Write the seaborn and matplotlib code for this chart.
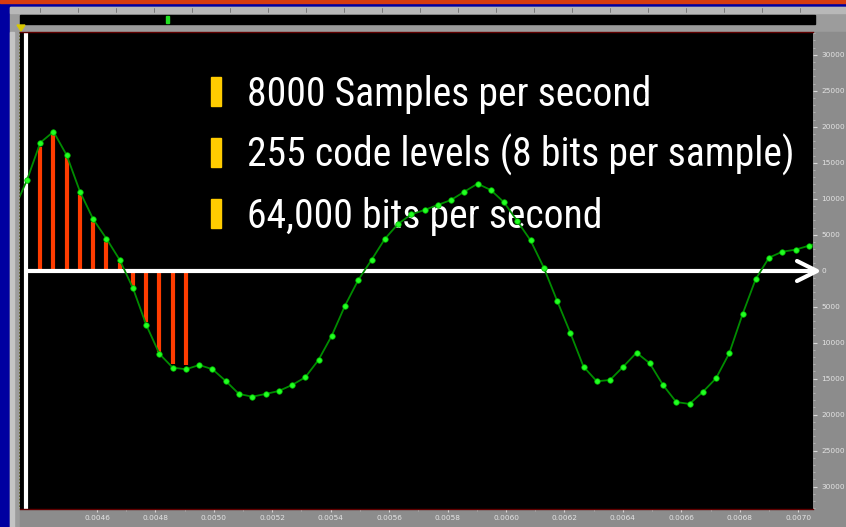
import numpy as np
import pandas as pd
import matplotlib
matplotlib.use('Agg')
import matplotlib.pyplot as plt
import seaborn as sns
from matplotlib.patches import Rectangle, Polygon

# 波形采样值（从截图读出，序号 -1..60）
sample_idx = list(range(-1, 61))
sample_values = [8430, 12600, 17780, 19310, 16030, 10970, 7140, 4440, 1490, -2440,
                 -7540, -11570, -13470, -13690, -13100, -13690, -15320, -17120, -17500, -17120,
                 -16710, -15880, -14810, -12400, -9030, -4860, -1290, 1490, 4400, 6490,
                 7830, 8430, 9130, 9820, 10970, 12080, 11210, 9500, 6900, 4220,
                 440, -4140, -8610, -13330, -15360, -15180, -13330, -11390, -12860, -15880,
                 -18240, -18510, -16850, -14950, -11470, -6060, -1150, 1810, 2640, 2920,
                 3470, 3990]

# 量化后的 PCM 值（红色竖线）
pcm_idx = list(range(1, 13))
pcm_values = [17220, 19170, 15750, 10510, 6810, 4030, 1110, -2080, -7080, -11250, -12960, -13100]

bullet_lines = ['8000 Samples per second',
                '255 code levels (8 bits per sample)',
                '64,000 bits per second']

# 坐标轴刻度
y_ticks = [30000, 25000, 20000, 15000, 10000, 5000, 0, -5000, -10000, -15000, -20000, -25000, -30000]
y_tick_labels = ['30000', '25000', '20000', '15000', '10000', '5000', '0',
                 '5000', '10000', '15000', '20000', '25000', '30000']
x_tick_times = [0.0046, 0.0048, 0.0050, 0.0052, 0.0054, 0.0056, 0.0058,
                0.0060, 0.0062, 0.0064, 0.0066, 0.0068, 0.0070]
fs = 22050
t_first = 0.0043605  # 第0个采样的时间

sns.set_style("dark")
plt.rcParams['font.family'] = ['Roboto Condensed', 'Liberation Sans Narrow', 'Roboto', 'DejaVu Sans']

W, H = 846, 527
fig = plt.figure(figsize=(W / 100, H / 100), dpi=100, facecolor='#0000a0')

# 背景（像素坐标）
bg = fig.add_axes([0, 0, 1, 1], zorder=0)
bg.set_xlim(0, W)
bg.set_ylim(H, 0)
bg.axis('off')
bg.add_patch(Rectangle((0, 0), W, 3, color='#d83c10'))
bg.add_patch(Rectangle((10, 7), W - 10, H - 7, color='#9c9c9c'))
bg.add_patch(Rectangle((10, 7), W - 10, 6, color='#b8b8b8'))
for sx in range(40, 815, 38):
    bg.plot([sx, sx], [8, 12], color='#707070', lw=0.6)
bg.add_patch(Rectangle((20, 15), 795, 9, color='black'))
bg.add_patch(Rectangle((166, 16), 3, 7, color='#20e020'))
bg.add_patch(Polygon([(17, 25), (25, 25), (21, 31)], color='#d8c800'))
bg.add_patch(Rectangle((10, 32), 4, H - 32, color='#c4c4c4'))
bg.plot([20, 20], [32, 509], color='#5a5a20', lw=1.2, ls=(0, (1, 1)))
bg.add_patch(Rectangle((813, 32), W - 813, H - 32, color='#8c8c8c'))
bg.add_patch(Rectangle((20, 509), 793, H - 509, color='#8c8c8c'))

# 主图
ax = fig.add_axes([20 / W, (H - 509) / H, 793 / W, 477 / H], zorder=1)
ax.set_facecolor('black')
ax.grid(False)

# 文字与项目符号
for k, s in enumerate(bullet_lines):
    base = 106 + 61 * k
    ax.add_patch(Rectangle((211, base - 29), 10, 29, color='#ffcc00',
                           transform=bg.transData, zorder=1))
    ax.text(247, base, s, transform=bg.transData, color='white', fontsize=28.5,
            va='baseline', ha='left', zorder=1)

# 量化竖线
ax.vlines(pcm_idx, 0, pcm_values, color='#ff3c00', lw=3, zorder=2)

# 白色坐标箭头
ax.plot([28, 815], [271, 271], transform=bg.transData, color='white', lw=3,
        solid_capstyle='butt', zorder=2.5, clip_on=False)
ax.plot([797, 817, 797], [261, 271, 281], transform=bg.transData, color='white', lw=3,
        solid_capstyle='round', solid_joinstyle='round', zorder=2.5, clip_on=False)
ax.plot([26, 26], [32, 509], transform=bg.transData, color='white', lw=3,
        solid_capstyle='butt', zorder=2.5, clip_on=False)

# 波形
df = pd.DataFrame({'n': sample_idx, 'v': sample_values})
sns.lineplot(data=df, x='n', y='v', ax=ax, color='#008c00', lw=1.3, zorder=3)
sns.scatterplot(data=df, x='n', y='v', ax=ax, color='#22ff22', s=16, marker='o',
                edgecolor='#00b000', linewidth=0.5, zorder=4)

ax.set_xlim(-0.528, 59.32)
ax.set_ylim(-33100, 33155)
ax.set_xlabel('')
ax.set_ylabel('')

# 右侧刻度
ax.yaxis.tick_right()
ax.set_yticks(y_ticks)
ax.set_yticklabels(y_tick_labels)
ax.set_yticks(np.arange(-33000, 33001, 1000), minor=True)
ax.tick_params(axis='y', which='major', direction='out', length=3, width=0.8, color='#d8d8d8',
               labelsize=5.3, labelcolor='#e4e4e4', pad=3, right=True, left=False)
ax.tick_params(axis='y', which='minor', direction='out', length=1.5, width=0.6, color='#b8b8b8',
               right=True, left=False)

# 底部刻度
x_pos = [(t - t_first) * fs for t in x_tick_times]
ax.set_xticks(x_pos)
ax.set_xticklabels([f'{t:.4f}' for t in x_tick_times])
ax.set_xticks([p + 2.205 for p in x_pos[:-1]], minor=True)
ax.tick_params(axis='x', which='major', direction='out', length=2.5, width=0.8, color='#d8d8d8',
               labelsize=5.3, labelcolor='#e4e4e4', pad=1.5, bottom=True)
ax.tick_params(axis='x', which='minor', direction='out', length=1.5, width=0.6, color='#b8b8b8',
               bottom=True)
for t in ax.get_xticklabels() + ax.get_yticklabels():
    t.set_fontfamily('DejaVu Sans')

for side in ['left', 'right']:
    ax.spines[side].set_visible(False)
for side in ['top', 'bottom']:
    ax.spines[side].set_color('#600000')
    ax.spines[side].set_linewidth(1)

fig.savefig('out.png', dpi=100, facecolor=fig.get_facecolor())
